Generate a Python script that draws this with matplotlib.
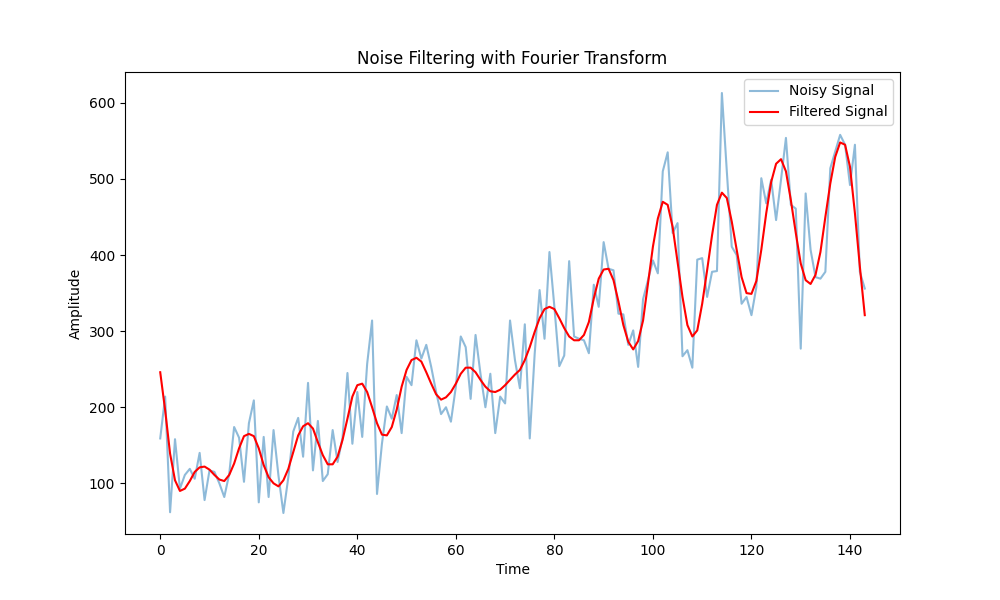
import numpy as np
import matplotlib
matplotlib.use("Agg")
import matplotlib.pyplot as plt

noisy = [159, 214, 62, 158, 93, 111, 119, 106, 140, 78, 117, 115, 100, 82, 112, 174, 160, 102, 179, 209,
         75, 161, 82, 170, 110, 61, 108, 168, 186, 135, 232, 117, 182, 103, 112, 170, 128, 160, 245, 152,
         220, 161, 257, 314, 86, 152, 201, 185, 216, 166, 240, 229, 288, 264, 282, 253, 220, 191, 200, 181,
         227, 293, 279, 211, 295, 244, 200, 244, 166, 214, 205, 314, 262, 225, 309, 159, 270, 354, 290, 404,
         332, 254, 268, 392, 293, 290, 288, 271, 361, 332, 417, 382, 380, 323, 322, 282, 301, 253, 342, 367,
         393, 376, 510, 535, 429, 442, 267, 275, 252, 394, 396, 345, 378, 379, 613, 510, 411, 400, 336, 345,
         321, 358, 501, 468, 499, 446, 499, 554, 466, 461, 277, 481, 407, 371, 369, 378, 514, 536, 558, 545,
         492, 545, 378, 356]

filtered = [246, 196, 139, 104, 90, 93, 103, 115, 121, 122, 118, 111, 105, 103, 111, 126, 146, 162, 165, 162,
            146, 124, 108, 100, 96, 104, 119, 141, 163, 175, 179, 172, 154, 137, 125, 125, 135, 157, 185, 214,
            229, 231, 220, 200, 179, 164, 163, 174, 197, 227, 249, 262, 265, 260, 246, 231, 217, 210, 213, 220,
            231, 244, 252, 252, 246, 236, 227, 221, 220, 223, 229, 236, 243, 249, 262, 279, 299, 317, 329, 332,
            329, 317, 304, 293, 288, 288, 295, 312, 343, 369, 381, 382, 367, 339, 308, 286, 276, 287, 314, 363,
            411, 448, 470, 466, 437, 391, 345, 308, 293, 301, 336, 380, 426, 466, 482, 475, 444, 407, 371, 350,
            349, 366, 407, 455, 496, 520, 526, 510, 472, 429, 389, 367, 362, 374, 404, 450, 494, 529, 548, 545,
            516, 455, 385, 321]

t = np.arange(len(noisy))

fig, ax = plt.subplots(figsize=(10, 6), dpi=100)
ax.plot(t, noisy, label="Noisy Signal", alpha=0.5)
ax.plot(t, filtered, label="Filtered Signal", color="red")
ax.set_title("Noise Filtering with Fourier Transform")
ax.set_xlabel("Time")
ax.set_ylabel("Amplitude")
ax.legend(loc="upper right")
fig.savefig("out.png")
